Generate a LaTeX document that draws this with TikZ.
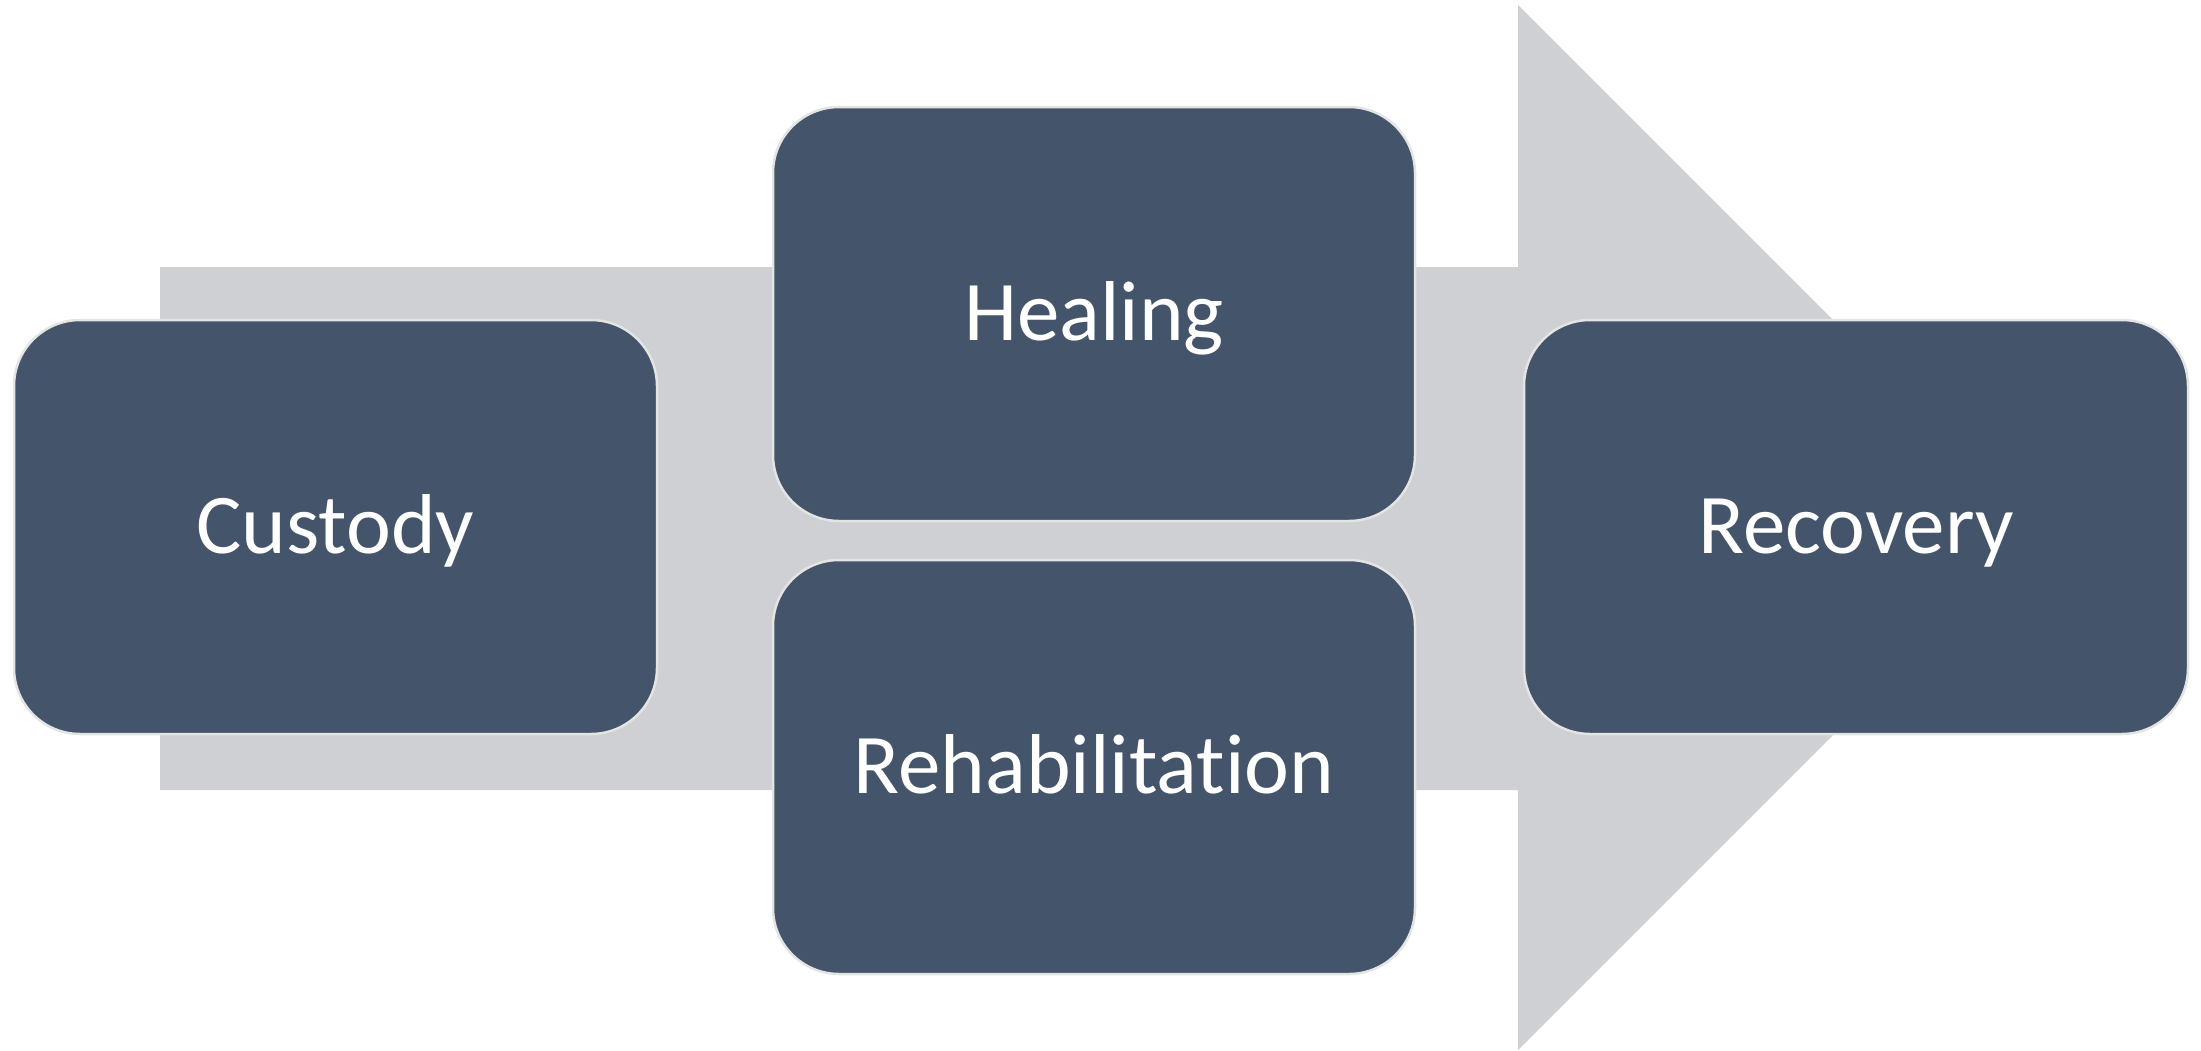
\documentclass[tikz,border=0pt]{standalone}
\usepackage{fontspec}
\setmainfont{Carlito}[Ligatures=NoCommon]
\usetikzlibrary{positioning}
\definecolor{stageBlue}{HTML}{44546A}
\definecolor{stageArrow}{HTML}{CFD0D4}
\definecolor{stageEdge}{HTML}{E4E4E4}

\begin{document}
\begin{tikzpicture}[x=1pt,y=-1pt,
      stage/.style={draw=stageEdge,line width=2.5pt,fill=stageBlue,rounded corners=66pt,text=white,
        font=\fontsize{85}{100}\selectfont,minimum height=414pt,inner sep=0pt,
        text height=72pt,text depth=20pt,align=center}]
    \useasboundingbox (0,0) rectangle (2201,1050);
    % big arrow behind the stages
    \fill[stageArrow] (160,267) -- (1518,267) -- (1518,5) -- (2040.5,527.5)
      -- (1518,1050) -- (1518,790) -- (160,790) -- cycle;
    \node[stage,minimum width=643pt] (custody) at (335.5,527) {Custody};
    \node[stage,minimum width=642pt] (healing) at (1094,314) {Healing};
    \node[stage,minimum width=642pt] (rehab) at (1094,767) {Rehabilitation};
    \node[stage,minimum width=664pt] (recovery) at (1856,527) {Recovery};
  \end{tikzpicture}
\end{document}
